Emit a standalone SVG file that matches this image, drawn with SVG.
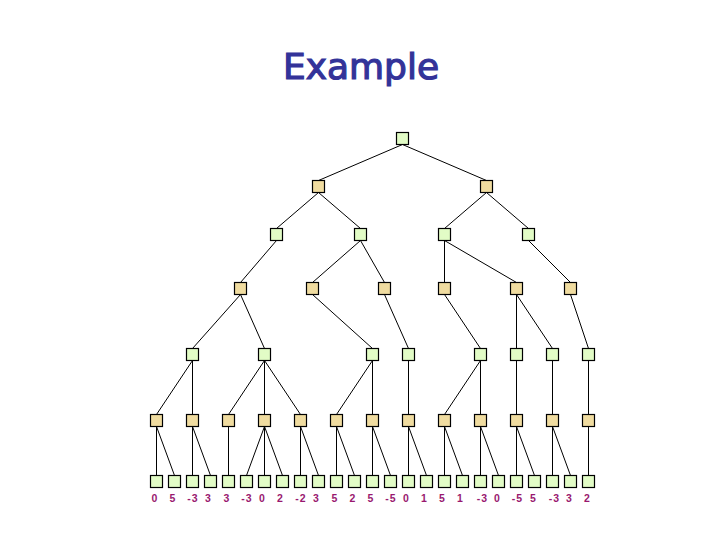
<svg xmlns="http://www.w3.org/2000/svg" width="720" height="540" viewBox="0 0 720 540">
<style>
.g{fill:#e2fcc6;stroke:#000;stroke-width:1.2}
.t{fill:#f0dca0;stroke:#000;stroke-width:1.2}
#edges line{stroke:#000;stroke-width:1}
.v{font-family:"Liberation Sans",Arial,sans-serif;font-weight:bold;font-size:10.5px;fill:#99186f;text-anchor:middle;letter-spacing:1px}
.title{font-family:"DejaVu Sans","Liberation Sans",sans-serif;font-size:36px;fill:#333399;stroke:#333399;stroke-width:1.2;text-anchor:middle}
</style>
<rect width="720" height="540" fill="#fff"/>
<text class="title" x="361" y="79">Example</text>
<g id="edges">
<line x1="402.5" y1="144.5" x2="318.5" y2="180.5"/>
<line x1="402.5" y1="144.5" x2="486.5" y2="180.5"/>
<line x1="318.5" y1="192.5" x2="276.5" y2="228.5"/>
<line x1="318.5" y1="192.5" x2="360.5" y2="228.5"/>
<line x1="486.5" y1="192.5" x2="444.5" y2="228.5"/>
<line x1="486.5" y1="192.5" x2="528.5" y2="228.5"/>
<line x1="276.5" y1="240.5" x2="240.5" y2="282.5"/>
<line x1="360.5" y1="240.5" x2="312.5" y2="282.5"/>
<line x1="360.5" y1="240.5" x2="384.5" y2="282.5"/>
<line x1="444.5" y1="240.5" x2="444.5" y2="282.5"/>
<line x1="444.5" y1="240.5" x2="516.5" y2="282.5"/>
<line x1="528.5" y1="240.5" x2="570.5" y2="282.5"/>
<line x1="240.5" y1="294.5" x2="192.5" y2="348.5"/>
<line x1="240.5" y1="294.5" x2="264.5" y2="348.5"/>
<line x1="312.5" y1="294.5" x2="372.5" y2="348.5"/>
<line x1="384.5" y1="294.5" x2="408.5" y2="348.5"/>
<line x1="444.5" y1="294.5" x2="480.5" y2="348.5"/>
<line x1="516.5" y1="294.5" x2="516.5" y2="348.5"/>
<line x1="516.5" y1="294.5" x2="552.5" y2="348.5"/>
<line x1="570.5" y1="294.5" x2="588.5" y2="348.5"/>
<line x1="192.5" y1="360.5" x2="156.5" y2="414.5"/>
<line x1="192.5" y1="360.5" x2="192.5" y2="414.5"/>
<line x1="264.5" y1="360.5" x2="228.5" y2="414.5"/>
<line x1="264.5" y1="360.5" x2="264.5" y2="414.5"/>
<line x1="264.5" y1="360.5" x2="300.5" y2="414.5"/>
<line x1="372.5" y1="360.5" x2="336.5" y2="414.5"/>
<line x1="372.5" y1="360.5" x2="372.5" y2="414.5"/>
<line x1="408.5" y1="360.5" x2="408.5" y2="414.5"/>
<line x1="480.5" y1="360.5" x2="444.5" y2="414.5"/>
<line x1="480.5" y1="360.5" x2="480.5" y2="414.5"/>
<line x1="516.5" y1="360.5" x2="516.5" y2="414.5"/>
<line x1="552.5" y1="360.5" x2="552.5" y2="414.5"/>
<line x1="588.5" y1="360.5" x2="588.5" y2="414.5"/>
<line x1="156.5" y1="426.5" x2="156.5" y2="475.5"/>
<line x1="156.5" y1="426.5" x2="174.5" y2="475.5"/>
<line x1="192.5" y1="426.5" x2="192.5" y2="475.5"/>
<line x1="192.5" y1="426.5" x2="210.5" y2="475.5"/>
<line x1="228.5" y1="426.5" x2="228.5" y2="475.5"/>
<line x1="264.5" y1="426.5" x2="246.5" y2="475.5"/>
<line x1="264.5" y1="426.5" x2="264.5" y2="475.5"/>
<line x1="264.5" y1="426.5" x2="282.5" y2="475.5"/>
<line x1="300.5" y1="426.5" x2="300.5" y2="475.5"/>
<line x1="300.5" y1="426.5" x2="318.5" y2="475.5"/>
<line x1="336.5" y1="426.5" x2="336.5" y2="475.5"/>
<line x1="336.5" y1="426.5" x2="354.5" y2="475.5"/>
<line x1="372.5" y1="426.5" x2="372.5" y2="475.5"/>
<line x1="372.5" y1="426.5" x2="390.5" y2="475.5"/>
<line x1="408.5" y1="426.5" x2="408.5" y2="475.5"/>
<line x1="408.5" y1="426.5" x2="426.5" y2="475.5"/>
<line x1="444.5" y1="426.5" x2="444.5" y2="475.5"/>
<line x1="444.5" y1="426.5" x2="462.5" y2="475.5"/>
<line x1="480.5" y1="426.5" x2="480.5" y2="475.5"/>
<line x1="480.5" y1="426.5" x2="498.5" y2="475.5"/>
<line x1="516.5" y1="426.5" x2="516.5" y2="475.5"/>
<line x1="516.5" y1="426.5" x2="534.5" y2="475.5"/>
<line x1="552.5" y1="426.5" x2="552.5" y2="475.5"/>
<line x1="552.5" y1="426.5" x2="570.5" y2="475.5"/>
<line x1="588.5" y1="426.5" x2="588.5" y2="475.5"/>
</g>
<g id="n0"><rect class="g" x="396.5" y="132.5" width="12" height="12"/></g>
<g id="a1"><rect class="t" x="312.5" y="180.5" width="12" height="12"/></g>
<g id="a2"><rect class="t" x="480.5" y="180.5" width="12" height="12"/></g>
<g id="b1"><rect class="g" x="270.5" y="228.5" width="12" height="12"/></g>
<g id="b2"><rect class="g" x="354.5" y="228.5" width="12" height="12"/></g>
<g id="b3"><rect class="g" x="438.5" y="228.5" width="12" height="12"/></g>
<g id="b4"><rect class="g" x="522.5" y="228.5" width="12" height="12"/></g>
<g id="c1"><rect class="t" x="234.5" y="282.5" width="12" height="12"/></g>
<g id="c2"><rect class="t" x="306.5" y="282.5" width="12" height="12"/></g>
<g id="c3"><rect class="t" x="378.5" y="282.5" width="12" height="12"/></g>
<g id="c4"><rect class="t" x="438.5" y="282.5" width="12" height="12"/></g>
<g id="c5"><rect class="t" x="510.5" y="282.5" width="12" height="12"/></g>
<g id="c6"><rect class="t" x="564.5" y="282.5" width="12" height="12"/></g>
<g id="d1"><rect class="g" x="186.5" y="348.5" width="12" height="12"/></g>
<g id="d2"><rect class="g" x="258.5" y="348.5" width="12" height="12"/></g>
<g id="d3"><rect class="g" x="366.5" y="348.5" width="12" height="12"/></g>
<g id="d4"><rect class="g" x="402.5" y="348.5" width="12" height="12"/></g>
<g id="d5"><rect class="g" x="474.5" y="348.5" width="12" height="12"/></g>
<g id="d6"><rect class="g" x="510.5" y="348.5" width="12" height="12"/></g>
<g id="d7"><rect class="g" x="546.5" y="348.5" width="12" height="12"/></g>
<g id="d8"><rect class="g" x="582.5" y="348.5" width="12" height="12"/></g>
<g id="e1"><rect class="t" x="150.5" y="414.5" width="12" height="12"/></g>
<g id="e2"><rect class="t" x="186.5" y="414.5" width="12" height="12"/></g>
<g id="e3"><rect class="t" x="222.5" y="414.5" width="12" height="12"/></g>
<g id="e4"><rect class="t" x="258.5" y="414.5" width="12" height="12"/></g>
<g id="e5"><rect class="t" x="294.5" y="414.5" width="12" height="12"/></g>
<g id="e6"><rect class="t" x="330.5" y="414.5" width="12" height="12"/></g>
<g id="e7"><rect class="t" x="366.5" y="414.5" width="12" height="12"/></g>
<g id="e8"><rect class="t" x="402.5" y="414.5" width="12" height="12"/></g>
<g id="e9"><rect class="t" x="438.5" y="414.5" width="12" height="12"/></g>
<g id="e10"><rect class="t" x="474.5" y="414.5" width="12" height="12"/></g>
<g id="e11"><rect class="t" x="510.5" y="414.5" width="12" height="12"/></g>
<g id="e12"><rect class="t" x="546.5" y="414.5" width="12" height="12"/></g>
<g id="e13"><rect class="t" x="582.5" y="414.5" width="12" height="12"/></g>
<g id="f1"><rect class="g" x="150.5" y="475.5" width="12" height="12"/><text class="v" x="155" y="502">0</text></g>
<g id="f2"><rect class="g" x="168.5" y="475.5" width="12" height="12"/><text class="v" x="173" y="502">5</text></g>
<g id="f3"><rect class="g" x="186.5" y="475.5" width="12" height="12"/><text class="v" x="193" y="502">-3</text></g>
<g id="f4"><rect class="g" x="204.5" y="475.5" width="12" height="12"/><text class="v" x="208.5" y="502">3</text></g>
<g id="f5"><rect class="g" x="222.5" y="475.5" width="12" height="12"/><text class="v" x="227" y="502">3</text></g>
<g id="f6"><rect class="g" x="240.5" y="475.5" width="12" height="12"/><text class="v" x="247" y="502">-3</text></g>
<g id="f7"><rect class="g" x="258.5" y="475.5" width="12" height="12"/><text class="v" x="262.5" y="502">0</text></g>
<g id="f8"><rect class="g" x="276.5" y="475.5" width="12" height="12"/><text class="v" x="280.5" y="502">2</text></g>
<g id="f9"><rect class="g" x="294.5" y="475.5" width="12" height="12"/><text class="v" x="301" y="502">-2</text></g>
<g id="f10"><rect class="g" x="312.5" y="475.5" width="12" height="12"/><text class="v" x="316.5" y="502">3</text></g>
<g id="f11"><rect class="g" x="330.5" y="475.5" width="12" height="12"/><text class="v" x="335" y="502">5</text></g>
<g id="f12"><rect class="g" x="348.5" y="475.5" width="12" height="12"/><text class="v" x="353" y="502">2</text></g>
<g id="f13"><rect class="g" x="366.5" y="475.5" width="12" height="12"/><text class="v" x="371" y="502">5</text></g>
<g id="f14"><rect class="g" x="384.5" y="475.5" width="12" height="12"/><text class="v" x="391" y="502">-5</text></g>
<g id="f15"><rect class="g" x="402.5" y="475.5" width="12" height="12"/><text class="v" x="406.5" y="502">0</text></g>
<g id="f16"><rect class="g" x="420.5" y="475.5" width="12" height="12"/><text class="v" x="424.5" y="502">1</text></g>
<g id="f17"><rect class="g" x="438.5" y="475.5" width="12" height="12"/><text class="v" x="442.5" y="502">5</text></g>
<g id="f18"><rect class="g" x="456.5" y="475.5" width="12" height="12"/><text class="v" x="460.5" y="502">1</text></g>
<g id="f19"><rect class="g" x="474.5" y="475.5" width="12" height="12"/><text class="v" x="482.5" y="502">-3</text></g>
<g id="f20"><rect class="g" x="492.5" y="475.5" width="12" height="12"/><text class="v" x="497.5" y="502">0</text></g>
<g id="f21"><rect class="g" x="510.5" y="475.5" width="12" height="12"/><text class="v" x="517.5" y="502">-5</text></g>
<g id="f22"><rect class="g" x="528.5" y="475.5" width="12" height="12"/><text class="v" x="533.5" y="502">5</text></g>
<g id="f23"><rect class="g" x="546.5" y="475.5" width="12" height="12"/><text class="v" x="554.5" y="502">-3</text></g>
<g id="f24"><rect class="g" x="564.5" y="475.5" width="12" height="12"/><text class="v" x="569.5" y="502">3</text></g>
<g id="f25"><rect class="g" x="582.5" y="475.5" width="12" height="12"/><text class="v" x="587.5" y="502">2</text></g>
</svg>
